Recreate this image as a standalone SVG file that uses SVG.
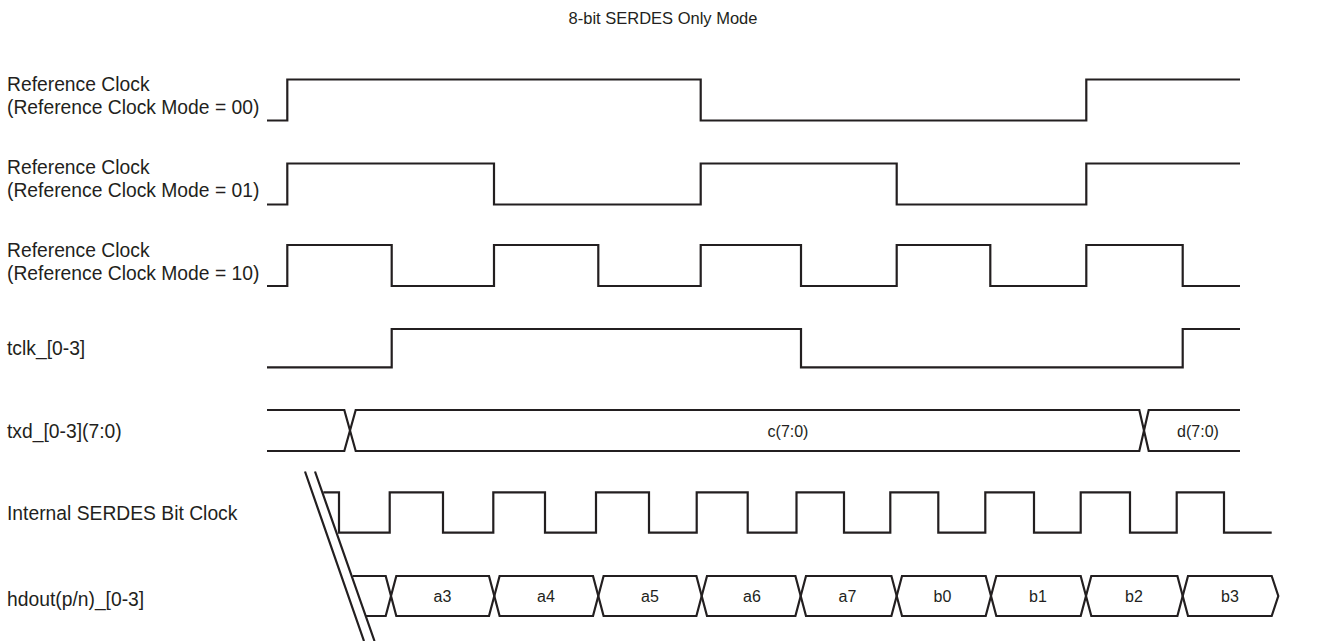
<svg xmlns="http://www.w3.org/2000/svg" width="1328" height="641" viewBox="0 0 1328 641">
<style>
.w{fill:none;stroke:#231f20;stroke-width:2.2;stroke-linejoin:miter;stroke-linecap:butt}
.lbl{font-family:"Liberation Sans",Arial,sans-serif;font-size:19.3px;fill:#231f20}
.val{font-family:"Liberation Sans",Arial,sans-serif;font-size:16px;fill:#231f20;text-anchor:middle}
.title{font-family:"Liberation Sans",Arial,sans-serif;font-size:16.5px;fill:#231f20;text-anchor:middle}
</style>
<rect width="1328" height="641" fill="#fff"/>
<text class="title" x="663" y="24">8-bit SERDES Only Mode</text>

<g id="refclk00">
<text class="lbl" x="7" y="90.5">Reference Clock</text>
<text class="lbl" x="7" y="113.5">(Reference Clock Mode = 00)</text>
<path class="w" d="M267,120.5 H287.3 V79.5 H700.7 V120.5 H1086.3 V79.5 H1240"/>
</g>

<g id="refclk01">
<text class="lbl" x="7" y="173.5">Reference Clock</text>
<text class="lbl" x="7" y="196.5">(Reference Clock Mode = 01)</text>
<path class="w" d="M267,204.5 H287.3 V163.5 H494 V204.5 H700.7 V163.5 H896.7 V204.5 H1086.3 V163.5 H1240"/>
</g>

<g id="refclk10">
<text class="lbl" x="7" y="257">Reference Clock</text>
<text class="lbl" x="7" y="280">(Reference Clock Mode = 10)</text>
<path class="w" d="M267,286 H287.3 V245 H391.7 V286 H494 V245 H598.3 V286 H700.7 V245 H801 V286 H896.7 V245 H990.3 V286 H1086.3 V245 H1182.7 V286 H1240"/>
</g>

<g id="tclk">
<text class="lbl" x="7" y="355">tclk_[0-3]</text>
<path class="w" d="M267,367.3 H391.7 V329 H801 V367.3 H1182.7 V329 H1240"/>
</g>

<g id="txd">
<text class="lbl" x="7" y="437.5">txd_[0-3](7:0)</text>
<path class="w" d="M267,410 H344.3 L355.7,451 H1139.3 L1148.7,410 H1240"/>
<path class="w" d="M267,451 H344.3 L355.7,410 H1139.3 L1148.7,451 H1240"/>
<text class="val" x="788" y="436.5">c(7:0)</text>
<text class="val" x="1198" y="436.5">d(7:0)</text>
</g>

<g id="bitclk">
<text class="lbl" x="7" y="519.5">Internal SERDES Bit Clock</text>
<path class="w" d="M323.3,492.3 H339 V532.7 H389.7 V492.3 H443 V532.7 H493.3 V492.3 H545 V532.7 H596 V492.3 H649 V532.7 H696.7 V492.3 H747.7 V532.7 H796.5 V492.3 H844 V532.7 H890.3 V492.3 H938.3 V532.7 H985.3 V492.3 H1034 V532.7 H1080.7 V492.3 H1130 V532.7 H1176.7 V492.3 H1224 V532.7 H1271.7"/>
</g>

<g id="hdout">
<text class="lbl" x="7" y="605.5">hdout(p/n)_[0-3]</text>
<path class="w" d="M352.7,576 H385.7 L391,596 M366,616 H385.7 L391,596"/>
<path class="w" d="M391,596 L396.3,576 H489 L494.3,596 L489,616 H396.3 Z"/>
<path class="w" d="M494.3,596 L499.6,576 H593 L598.3,596 L593,616 H499.6 Z"/>
<path class="w" d="M598.3,596 L603.6,576 H696.4 L701.7,596 L696.4,616 H603.6 Z"/>
<path class="w" d="M701.7,596 L707,576 H795.4 L800.7,596 L795.4,616 H707 Z"/>
<path class="w" d="M800.7,596 L806,576 H891.4 L896.7,596 L891.4,616 H806 Z"/>
<path class="w" d="M896.7,596 L902,576 H985.7 L991,596 L985.7,616 H902 Z"/>
<path class="w" d="M991,596 L996.3,576 H1080.7 L1086,596 L1080.7,616 H996.3 Z"/>
<path class="w" d="M1086,596 L1091.3,576 H1177.4 L1182.7,596 L1177.4,616 H1091.3 Z"/>
<path class="w" d="M1182.7,596 L1188,576 H1271.7 L1278.3,596 L1271.7,616 H1188 Z"/>
<text class="val" x="442.5" y="601.5">a3</text>
<text class="val" x="546" y="601.5">a4</text>
<text class="val" x="650" y="601.5">a5</text>
<text class="val" x="752" y="601.5">a6</text>
<text class="val" x="847.5" y="601.5">a7</text>
<text class="val" x="942.5" y="601.5">b0</text>
<text class="val" x="1038" y="601.5">b1</text>
<text class="val" x="1134" y="601.5">b2</text>
<text class="val" x="1230" y="601.5">b3</text>
</g>

<g id="connectors">
<path class="w" d="M305,471.5 L364,641 M315,471.5 L374.5,641"/>
</g>
</svg>
